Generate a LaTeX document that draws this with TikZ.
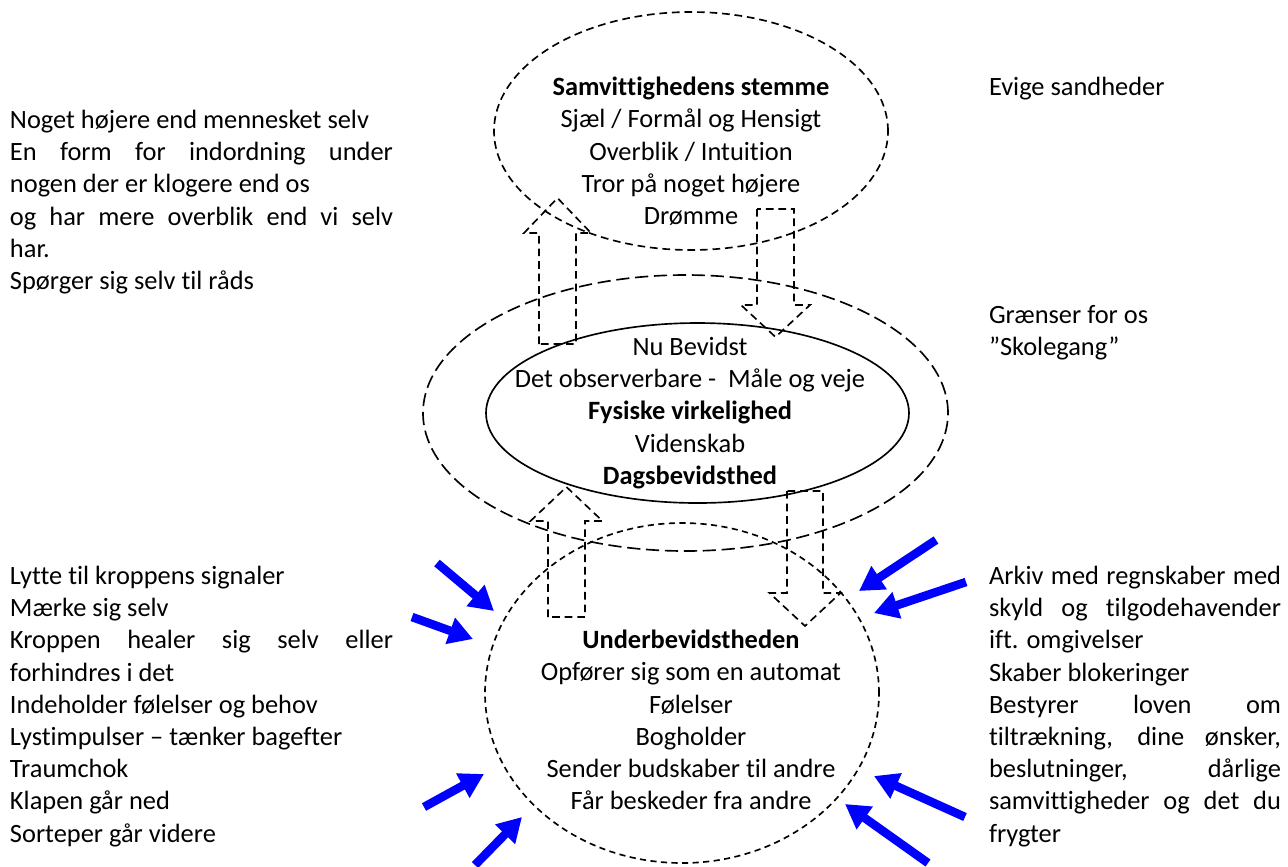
\documentclass[tikz,border=0pt]{standalone}
\usepackage{fontspec}
\setmainfont{Carlito}[Ligatures=NoCommon]
\usetikzlibrary{arrows.meta,shapes.geometric}
\setlength\parindent{0pt}
\tolerance=10000
\hbadness=10000
\newcommand\blkup[6]{% cx, tip y, head base y, bottom y, shaft half width, wing half width
  \draw[blockline] ({#1-#5},#4) -- ({#1-#5},#3) -- ({#1-#6},#3) -- (#1,#2) -- ({#1+#6},#3) -- ({#1+#5},#3) -- ({#1+#5},#4) -- cycle;}
\begin{document}
\begin{tikzpicture}[x=0.4545pt,y=-0.4545pt,
  txt/.style={font=\fontsize{12}{14.65}\selectfont, inner sep=0pt, outer sep=0pt},
  ctxt/.style={txt, align=center, anchor=north},
  jtxt/.style={txt, align=justify, anchor=north west},
  ltxt/.style={txt, align=left, anchor=north west},
  shell/.style={draw, line width=0.75pt, ellipse, inner sep=0pt, outer sep=0pt},
  dashtop/.style={dash pattern=on 3.5pt off 2.2pt},
  dashmid/.style={dash pattern=on 6pt off 2.6pt},
  dashlow/.style={dash pattern=on 2.8pt off 2pt},
  blockline/.style={line width=0.75pt, dash pattern=on 3.5pt off 2.2pt, line join=miter},
  bluearr/.style={draw=blue, line width=3.9pt, -{Triangle[length=11pt,width=12pt]}, blue}
]
\useasboundingbox (0,0) rectangle (1288,866);

% ellipses
\node[shell, dashtop, minimum width=179.07pt, minimum height=108.17pt] (soul) at (691,131) {};
\node[shell, dashmid, minimum width=238.61pt, minimum height=125.44pt] (limits) at (685.5,413) {};
\node[shell, solid, minimum width=192.25pt, minimum height=81.81pt] (now) at (697.5,413) {};
\node[shell, dashlow, minimum width=179.07pt, minimum height=154.53pt] (sub) at (682,693) {};

% block arrows
\blkup{557.5}{198}{233}{344}{18.5}{33.5}
\blkup{775.5}{337}{305}{209}{18.5}{34.5}
\blkup{566.5}{487}{521}{617}{18.5}{36}
\blkup{805}{626}{593}{491}{18}{35.5}

% texts in ellipses
\node[ctxt] (soultext) at (691,77) {\textbf{Samvittighedens stemme}\\Sjæl / Formål og Hensigt\\Overblik / Intuition\\Tror på noget højere\\Drømme};
\node[ctxt] (nowtext) at (690,337) {Nu Bevidst\\Det observerbare - \ Måle og veje\\\textbf{Fysiske virkelighed}\\Videnskab\\\textbf{Dagsbevidsthed}};
\node[ctxt] (subtext) at (691,630) {\textbf{Underbevidstheden}\\Opfører sig som en automat\\Følelser\\Bogholder\\Sender budskaber til andre\\Får beskeder fra andre};

% side texts
\node[jtxt, text width=174.07pt] (lefttop) at (10,110) {Noget højere end mennesket selv\par En form for indordning under\linebreak nogen der er klogere end os\par og har mere overblik end vi selv\linebreak har.\par Spørger sig selv til råds};
\node[jtxt, text width=174.07pt] (leftlow) at (10,566) {Lytte til kroppens signaler\par Mærke sig selv\par Kroppen healer sig selv eller\linebreak forhindres i det\par Indeholder følelser og behov\par Lystimpulser – tænker bagefter\par Traumchok\par Klapen går ned\par Sorteper går videre};
\node[ltxt] (righttop) at (989,77) {Evige sandheder};
\node[ltxt] (rightmid) at (989,305) {Grænser for os\\”Skolegang”};
\node[jtxt, text width=132.71pt] (rightlow) at (989,566) {Arkiv med regnskaber med\linebreak skyld og tilgodehavender\linebreak ift. omgivelser\par Skaber blokeringer\par Bestyrer loven om\linebreak tiltrækning, dine ønsker,\linebreak beslutninger, dårlige\linebreak samvittigheder og det du\linebreak frygter};

% blue arrows
\coordinate (a1) at (437,563); \coordinate (a1t) at (494,611);
\coordinate (a2) at (412,617); \coordinate (a2t) at (473,639);
\coordinate (a3) at (424,807); \coordinate (a3t) at (484,774);
\coordinate (a4) at (475,865); \coordinate (a4t) at (522,817);
\coordinate (a5) at (936,540); \coordinate (a5t) at (859,591);
\coordinate (a6) at (966,582); \coordinate (a6t) at (874,613);
\coordinate (a7) at (965,817); \coordinate (a7t) at (874,776);
\coordinate (a8) at (928,863); \coordinate (a8t) at (845,804);
\foreach \i in {1,...,8} {\draw[bluearr] (a\i) -- (a\i t);}
\end{tikzpicture}
\end{document}
